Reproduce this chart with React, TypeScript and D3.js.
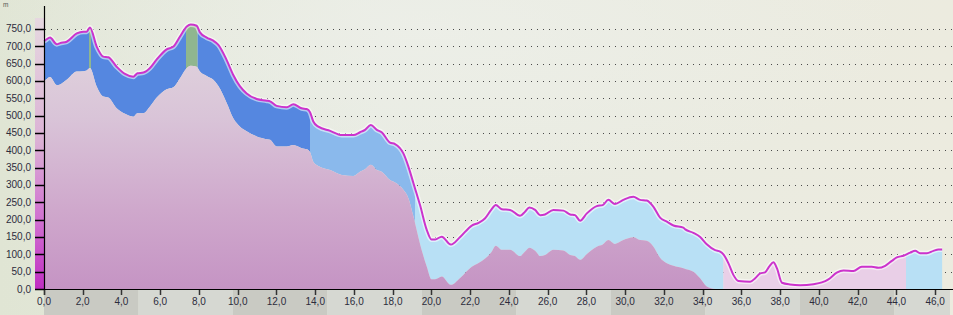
import React from "react";
import * as d3 from "d3";

const W = 953;
const H = 315;

// distance (km)
const dist = [0.0, 0.09, 0.31, 0.66, 0.83, 1.17, 1.69, 2.03, 2.2, 2.37, 2.72, 3.06, 3.32, 3.75, 4.18, 4.61, 4.82, 5.13, 5.47, 5.82, 6.33, 6.68, 7.02, 7.37, 7.57, 7.88, 8.05, 8.4, 8.74, 9.0, 9.43, 9.77, 10.12, 10.46, 10.98, 11.5, 11.67, 12.01, 12.53, 12.87, 13.3, 13.56, 13.73, 13.9, 14.16, 14.77, 15.37, 15.97, 16.31, 16.57, 16.87, 17.18, 17.43, 17.86, 18.12, 18.55, 18.81, 19.07, 19.41, 19.76, 20.0, 20.19, 20.53, 21.0, 21.48, 22.08, 22.43, 22.77, 23.08, 23.32, 23.63, 24.06, 24.57, 24.83, 25.05, 25.35, 25.61, 25.86, 26.29, 26.81, 27.16, 27.41, 27.67, 28.02, 28.53, 28.84, 29.13, 29.47, 29.9, 30.42, 30.77, 31.11, 31.46, 31.8, 32.15, 32.49, 33.0, 33.1, 33.52, 33.87, 34.21, 34.64, 34.9, 35.07, 35.33, 35.59, 35.85, 36.45, 36.71, 36.97, 37.22, 37.45, 37.65, 37.83, 38.09, 38.51, 39.03, 39.72, 40.15, 40.49, 40.92, 41.27, 41.78, 42.21, 42.73, 43.07, 43.42, 43.76, 44.02, 44.36, 44.71, 44.97, 45.22, 45.57, 45.91, 46.17, 46.36];

// upper profile (m)
const upper = [715, 718, 725, 706, 709, 713, 737, 742, 742, 754, 699, 670, 668, 641, 620, 612, 622, 624, 637, 662, 691, 699, 728, 757, 763, 759, 740, 725, 716, 704, 660, 617, 584, 564, 548, 543, 541, 528, 524, 533, 521, 519, 510, 483, 468, 456, 444, 444, 452, 459, 473, 459, 452, 422, 418, 391, 353, 305, 242, 170, 143, 143, 151, 128, 150, 183, 191, 204, 228, 242, 230, 228, 211, 223, 235, 228, 213, 215, 228, 226, 215, 213, 197, 218, 239, 242, 257, 245, 257, 266, 257, 255, 237, 206, 194, 183, 177, 172, 162, 150, 129, 112, 108, 100, 74, 40, 23, 21, 31, 45, 48, 66, 77, 60, 18, 13, 11, 14, 19, 28, 47, 53, 52, 64, 64, 61, 67, 81, 91, 96, 105, 110, 103, 103, 110, 114, 114];

// lower profile (m)
const lower = [600, 603, 611, 588, 590, 603, 627, 628, 630, 637, 584, 555, 552, 521, 505, 497, 507, 507, 526, 552, 576, 582, 608, 637, 644, 641, 627, 614, 603, 585, 536, 492, 468, 455, 440, 432, 430, 411, 411, 415, 406, 403, 395, 367, 355, 343, 329, 326, 338, 345, 358, 343, 338, 314, 307, 286, 262, 209, 130, 64, 28, 28, 36, 12, 32, 64, 75, 88, 105, 125, 113, 113, 95, 108, 119, 110, 95, 98, 113, 111, 98, 95, 84, 101, 122, 128, 141, 130, 141, 149, 141, 139, 122, 90, 74, 67, 60, 58, 50, 31, 7, 0, 0, 0, 0, 0, 0, 0, 0, 0, 0, 0, 0, 0, 0, 0, 0, 0, 0, 0, 0, 0, 0, 0, 0, 0, 0, 0, 0, 0, 0, 0, 0, 0, 0, 0, 0];

// band sections
const segStart = [0, 2.32, 2.43, 7.33, 7.93, 13.73, 19.15, 35.07, 44.5];
const segEnd = [2.32, 2.43, 7.33, 7.93, 13.73, 19.15, 35.07, 44.5, 46.4];
const segKind = ["dark", "green", "dark", "green", "dark", "mid", "light", "pink", "light"];
const kindColor: Record<string, string> = {
  dark: "#5587e0",
  green: "#8fb68f",
  mid: "#8ab9ec",
  light: "#b8e0f5",
  pink: "#e9cfe7",
};

const yTicks = d3.range(0, 751, 50);
const xTicks = d3.range(0, 47, 2);

export default function App() {
  const x = d3.scaleLinear().domain([0, 46.92]).range([44, 953]);
  const y = d3.scaleLinear().domain([0, 816]).range([289, 6]);
  const pts = dist.map((d, i) => ({ d, u: upper[i], l: lower[i] }));

  const band = d3
    .area<any>()
    .x((p) => x(p.d))
    .y0((p) => y(p.l))
    .y1((p) => y(p.u))
    .curve(d3.curveMonotoneX);
  const ground = d3
    .area<any>()
    .x((p) => x(p.d))
    .y0(y(0))
    .y1((p) => y(p.l))
    .curve(d3.curveMonotoneX);
  const line = d3
    .line<any>()
    .x((p) => x(p.d))
    .y((p) => y(p.u))
    .curve(d3.curveMonotoneX);

  const fmt = (v: number) => v.toFixed(1).replace(".", ",");
  const bandW = 94.5;
  const greyBands = d3.range(0, 10).map((i) => i);

  return (
    <svg
      width={W}
      height={H}
      style={{ position: "absolute", left: 0, top: 0, display: "block" }}
      fontFamily="'Liberation Sans', Arial, sans-serif"
    >
      <defs>
        <linearGradient id="bg" x1="0" x2="1" y1="0" y2="0">
          <stop offset="0" stopColor="#e0e5d4" />
          <stop offset="0.4" stopColor="#e8ebe2" />
          <stop offset="1" stopColor="#ecebdf" />
        </linearGradient>
        <radialGradient id="bgSpot" cx="0.45" cy="0.1" r="0.5">
          <stop offset="0" stopColor="#eef0ea" stopOpacity="0.7" />
          <stop offset="1" stopColor="#eef0ea" stopOpacity="0" />
        </radialGradient>
        <linearGradient id="groundG" x1="0" x2="0" y1={y(760)} y2={y(0)} gradientUnits="userSpaceOnUse">
          <stop offset="0" stopColor="#e2d7de" />
          <stop offset="0.35" stopColor="#d9c4d8" />
          <stop offset="0.7" stopColor="#cfa8cc" />
          <stop offset="1" stopColor="#c594c4" />
        </linearGradient>
        <linearGradient id="stripG" x1="0" x2="0" y1="0" y2="1">
          <stop offset="0" stopColor="#e6d8e0" />
          <stop offset="0.45" stopColor="#dbb2d5" />
          <stop offset="0.75" stopColor="#d070d0" />
          <stop offset="1" stopColor="#c02ec2" />
        </linearGradient>
        {segStart.map((s, i) => (
          <clipPath id={`seg${i}`} key={i}>
            <rect x={x(s)} y={0} width={x(segEnd[i]) - x(s)} height={H} />
          </clipPath>
        ))}
      </defs>

      <rect x={0} y={0} width={W} height={H} fill="url(#bg)" />
      <rect x={0} y={0} width={W} height={H} fill="url(#bgSpot)" />

      {/* grey label bands */}
      {greyBands.map((i) => {
        const x0 = 44 + i * bandW;
        const x1 = Math.min(950, x0 + bandW);
        if (x1 <= x0) return null;
        return (
          <rect
            key={i}
            x={x0}
            y={290}
            width={x1 - x0}
            height={H - 290}
            fill={i % 2 === 0 ? "#c9cac3" : "#d6d8d2"}
          />
        );
      })}

      {/* left colour strip */}
      <rect x={35} y={18} width={9} height={y(0) - 18} fill="url(#stripG)" />

      {/* grid */}
      {yTicks
        .filter((t) => t > 0)
        .map((t) => (
          <line
            key={t}
            x1={45}
            x2={W}
            y1={Math.round(y(t)) + 0.5}
            y2={Math.round(y(t)) + 0.5}
            stroke="#4a4a4a"
            strokeWidth={1}
            strokeDasharray="1 5"
          />
        ))}

      {/* band sections */}
      {segStart.map((s, i) => (
        <path key={i} d={band(pts) || ""} fill={kindColor[segKind[i]]} clipPath={`url(#seg${i})`} />
      ))}

      {/* ground */}
      <path d={ground(pts) || ""} fill="url(#groundG)" />

      {/* profile line */}
      <path d={line(pts) || ""} fill="none" stroke="#ffffff" strokeOpacity={0.55} strokeWidth={5} strokeLinejoin="round" />
      <path d={line(pts) || ""} fill="none" stroke="#cc33cc" strokeWidth={2} strokeLinejoin="round" />

      {/* y axis */}
      <line x1={44.5} x2={44.5} y1={6} y2={295} stroke="#000" strokeWidth={1.2} />
      {yTicks.map((t) => (
        <g key={t}>
          <line x1={35} x2={44} y1={Math.round(y(t)) + 0.5} y2={Math.round(y(t)) + 0.5} stroke="#000" strokeWidth={1.5} />
          <text x={31} y={y(t) + 3.5} fontSize={10} fill="#2c2c3c" textAnchor="end">
            {fmt(t)}
          </text>
        </g>
      ))}
      <text x={3} y={7} fontSize={6.5} fill="#555">
        m
      </text>

      {/* x axis */}
      <line x1={35} x2={W} y1={289.5} y2={289.5} stroke="#000" strokeWidth={1.2} />
      {xTicks.map((t) => (
        <g key={t}>
          <line x1={Math.round(x(t)) + 0.5} x2={Math.round(x(t)) + 0.5} y1={290} y2={295} stroke="#333" strokeWidth={1.5} />
          <text x={x(t)} y={305} fontSize={10} fill="#2c2c3c" textAnchor="middle">
            {fmt(t)}
          </text>
        </g>
      ))}
    </svg>
  );
}
